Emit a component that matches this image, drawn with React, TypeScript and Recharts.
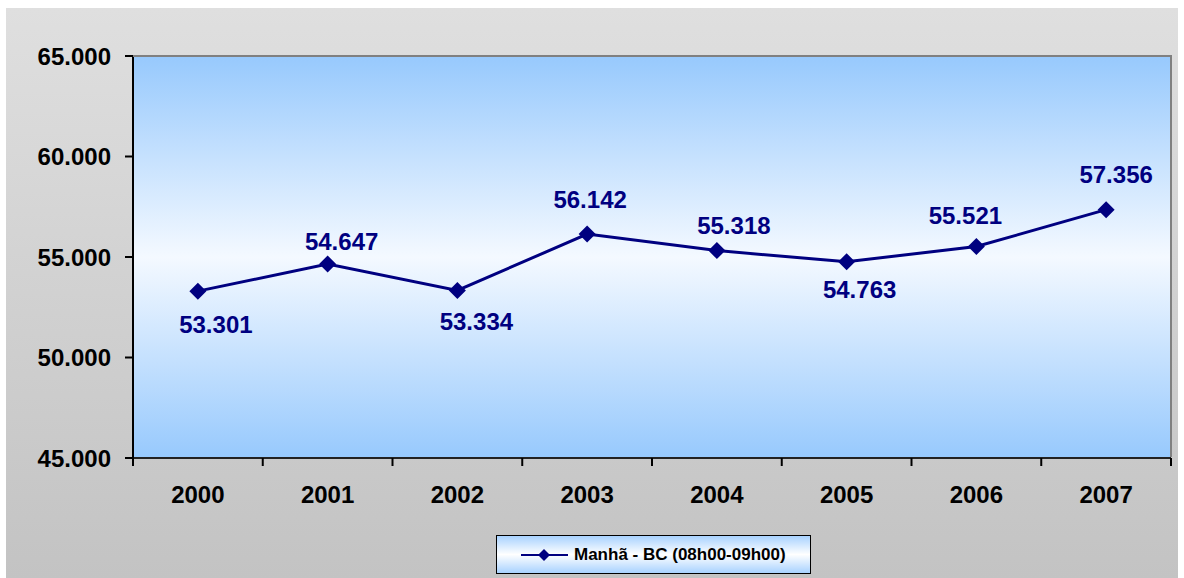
import { CartesianGrid, LabelList, Line, LineChart, XAxis, YAxis } from "recharts";

const years = ["2000", "2001", "2002", "2003", "2004", "2005", "2006", "2007"];
const morningBC = [53301, 54647, 53334, 56142, 55318, 54763, 55521, 57356];
const yTicks = [45000, 50000, 55000, 60000, 65000];
const boundaryTicks = [0, 1, 2, 3, 4, 5, 6, 7, 8];
const seriesName = "Manhã - BC (08h00-09h00)";

// hand placed label nudges (dx, dy of the label centre from its point), as in the original sheet
const labelOffsets: [number, number][] = [
  [18, 33],
  [14, -23],
  [19, 31],
  [3, -35],
  [17, -25],
  [13, 28],
  [-11, -31],
  [10, -35],
];

const data = years.map((year, i) => ({ year, idx: i + 0.5, value: morningBC[i] }));

const NAVY = "#000080";
const FONT = "'Liberation Sans', Arial, sans-serif";

const formatThousands = (v: number) => {
  const s = String(Math.round(v));
  return s.replace(/\B(?=(\d{3})+(?!\d))/g, ".");
};

function Diamond(props: { cx?: number; cy?: number }) {
  const { cx, cy } = props;
  if (cx == null || cy == null) return null;
  const r = 8.5;
  return (
    <path
      d={`M${cx},${cy - r} L${cx + r},${cy} L${cx},${cy + r} L${cx - r},${cy} Z`}
      fill={NAVY}
    />
  );
}

function ValueLabel(props: any) {
  const { x, y, value, index } = props;
  const [dx, dy] = labelOffsets[index] ?? [0, -30];
  return (
    <text
      x={x + dx}
      y={y + dy + 8.5}
      textAnchor="middle"
      fill={NAVY}
      fontFamily={FONT}
      fontWeight="bold"
      fontSize={24}
    >
      {formatThousands(value)}
    </text>
  );
}

function LegendBox() {
  return (
    <div
      style={{
        position: "absolute",
        left: 496,
        top: 535,
        width: 315,
        height: 39,
        border: "1px solid #000",
        background: "linear-gradient(to bottom, #a8d2ff 0%, #ffffff 50%, #a8d2ff 100%)",
        display: "flex",
        alignItems: "center",
        boxSizing: "border-box",
        fontFamily: FONT,
        fontWeight: "bold",
        fontSize: 17,
        color: "#000",
      }}
    >
      <svg width={77} height={20} style={{ flex: "none" }}>
        <line x1={24} y1={10} x2={71} y2={10} stroke={NAVY} strokeWidth={2} />
        <path d="M47,4 L53,10 L47,16 L41,10 Z" fill={NAVY} />
      </svg>
      <span>{seriesName}</span>
    </div>
  );
}

export default function App() {
  return (
    <div style={{ position: "relative", width: 1184, height: 578, background: "#fff" }}>
      <style>{`body{margin:0}`}</style>
      <div
        style={{
          position: "absolute",
          left: 6,
          top: 8,
          width: 1172,
          height: 570,
          background: "linear-gradient(to bottom, #dfdfdf 0%, #c3c3c3 100%)",
        }}
      />
      <div style={{ position: "absolute", left: 0, top: 0 }}>
        <LineChart
          width={1184}
          height={578}
          data={data}
          margin={{ top: 56, right: 13, bottom: 59, left: 6 }}
        >
          <defs>
            <linearGradient id="plotGrad" x1="0" y1="0" x2="0" y2="1">
              <stop offset="0%" stopColor="#97c9fd" />
              <stop offset="50%" stopColor="#f4f9ff" />
              <stop offset="100%" stopColor="#97c9fd" />
            </linearGradient>
          </defs>
          <CartesianGrid
            horizontal={false}
            vertical={false}
            fill="url(#plotGrad)"
            fillOpacity={1}
          />
          <XAxis
            xAxisId="bounds"
            type="number"
            dataKey="idx"
            domain={[0, 8]}
            ticks={boundaryTicks}
            height={1}
            axisLine={{ stroke: "#222", strokeWidth: 2 }}
            tickLine={{ stroke: "#000", strokeWidth: 2 }}
            tickSize={8}
            tick={() => <g />}
            interval={0}
          />
          <XAxis
            xAxisId="cat"
            dataKey="year"
            scale="band"
            height={60}
            axisLine={false}
            tickLine={false}
            tickSize={0}
            tickMargin={27}
            interval={0}
            tick={{ fill: "#000", fontFamily: FONT, fontWeight: "bold", fontSize: 24 }}
          />
          <YAxis
            width={127}
            domain={[45000, 65000]}
            ticks={yTicks}
            tickFormatter={formatThousands}
            axisLine={{ stroke: "#000", strokeWidth: 2 }}
            tickLine={{ stroke: "#000", strokeWidth: 2 }}
            tickSize={8}
            tickMargin={14}
            tick={{ fill: "#000", fontFamily: FONT, fontWeight: "bold", fontSize: 24 }}
          />
          <Line
            xAxisId="cat"
            dataKey="value"
            name={seriesName}
            stroke={NAVY}
            strokeWidth={3}
            dot={<Diamond />}
            activeDot={false}
            isAnimationActive={false}
          >
            <LabelList dataKey="value" content={<ValueLabel />} />
          </Line>
        </LineChart>
      </div>
      <svg
        width={1184}
        height={578}
        style={{ position: "absolute", left: 0, top: 0, pointerEvents: "none" }}
      >
        <polyline points="133,56 1171,56 1171,457" fill="none" stroke="#808080" strokeWidth={2} />
      </svg>
      <LegendBox />
    </div>
  );
}
